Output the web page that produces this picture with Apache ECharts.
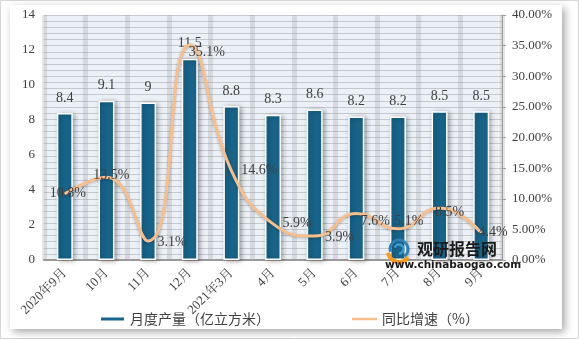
<!DOCTYPE html>
<html>
<head>
<meta charset="utf-8">
<script src="https://cdn.jsdelivr.net/npm/echarts@6/dist/echarts.min.js"></script>
<style>
html,body{margin:0;padding:0;background:#fff;}
#c{width:579px;height:339px;}
</style>
</head>
<body>
<div id="c"></div>
<script>
// ---- data ----
var categories = ['2020年9月','10月','11月','12月','2021年3月','4月','5月','6月','7月','8月','9月'];
var production = [8.4, 9.1, 9, 11.5, 8.8, 8.3, 8.6, 8.2, 8.2, 8.5, 8.5];
var growth = [10.8, 13.5, 3.1, 35.1, 14.6, 5.9, 3.9, 7.6, 5.1, 8.5, 4.4];
var leftTicks = [0, 14, 2];
var rightTicks = [0, 40, 5];
var seriesNames = ['月度产量（亿立方米）', '同比增速（%）'];

// ---- styles ----
var labelOffsets = [[3,-1],[5,-2],[24,1],[17,7],[28,0],[24,-1],[25,1],[19,8],[11,-7],[10,4],[12,-1]];
var serif = '"Liberation Serif", "Noto Serif CJK SC", "Noto Sans CJK SC", serif';
var cjk = '"Noto Sans CJK SC", sans-serif';
var textColor = '#404040';
var lineColor = '#f8be8c';

var growthData = growth.map(function (v, i) {
  return { value: v, label: { offset: labelOffsets[i] } };
});

var chart = echarts.init(document.getElementById('c'), null, {renderer: 'canvas'});
chart.setOption({
  animation: false,
  backgroundColor: '#fff',
  graphic: [
    { type: 'rect', z: -10, shape: {x: 0.5, y: 0.5, width: 578, height: 338},
      style: {fill: '#fff', stroke: '#d6d6d6', lineWidth: 1} },
    { type: 'rect', z: -9, shape: {x: 10, y: 5, width: 552, height: 324},
      style: {fill: '#fff', shadowBlur: 8, shadowColor: 'rgba(0,0,0,0.35)', shadowOffsetX: 3, shadowOffsetY: 3} },
    { type: 'arc', z: 50, shape: {cx: 399, cy: 249, r: 9, startAngle: Math.PI * 0.9, endAngle: Math.PI * 2.3},
      style: {stroke: '#2f7fb7', lineWidth: 3, fill: null} },
    { type: 'arc', z: 50, shape: {cx: 399, cy: 249, r: 4.5, startAngle: Math.PI * 1.1, endAngle: Math.PI * 2.5},
      style: {stroke: '#3c9ad0', lineWidth: 2.5, fill: null} },
    { type: 'arc', z: 50, shape: {cx: 399, cy: 251, r: 11, startAngle: Math.PI * 0.2, endAngle: Math.PI * 0.95},
      style: {stroke: '#f49a1c', lineWidth: 4, fill: null} },
    { type: 'text', z: 50, x: 417, y: 241,
      style: {text: '观研报告网', fill: '#1a1a1a', fontSize: 16, fontWeight: 'bold', fontFamily: cjk} },
    { type: 'text', z: 50, x: 385, y: 260,
      style: {text: 'www.chinabaogao.com', fill: '#1a1a1a', fontSize: 10.5, fontWeight: 'bold', fontFamily: '"DejaVu Sans", sans-serif'} }
  ],
  grid: {
    left: 44, right: 77, top: 15, bottom: 79,
    show: true, backgroundColor: '#ebf1f7', borderWidth: 0
  },
  legend: {
    bottom: 8, left: 94,
    itemWidth: 25, itemHeight: 5, itemGap: 82,
    textStyle: {fontFamily: cjk, fontSize: 14, color: textColor},
    data: [
      {name: seriesNames[0], icon: 'rect'},
      {name: seriesNames[1], icon: 'path://M0,0L25,0L25,0Z M0,1.2L25,1.2L25,3.8L0,3.8Z M0,5L25,5L25,5Z', itemStyle: {color: lineColor}}
    ]
  },
  xAxis: {
    type: 'category',
    data: categories,
    boundaryGap: true,
    axisLine: {show: true, lineStyle: {color: '#9a9a9a', width: 2}},
    axisTick: {show: false},
    axisLabel: {rotate: 45, margin: 11, fontFamily: serif, fontSize: 13, color: textColor, interval: 0},
    splitLine: {show: true, lineStyle: {color: 'rgba(150,150,150,0.25)', width: 5}}
  },
  yAxis: [
    {
      type: 'value', min: leftTicks[0], max: leftTicks[1], interval: leftTicks[2],
      axisLine: {show: false}, axisTick: {show: false}, splitLine: {show: false},
      axisLabel: {fontFamily: serif, fontSize: 13, color: textColor, margin: 9}
    },
    {
      type: 'value', min: rightTicks[0], max: rightTicks[1], interval: rightTicks[2],
      position: 'right',
      axisLine: {show: true, lineStyle: {color: '#9a9a9a', width: 1}},
      axisTick: {show: true, length: 4, lineStyle: {color: '#9a9a9a'}},
      axisLabel: {fontFamily: serif, fontSize: 13, color: textColor, margin: 10,
        formatter: function (v) { return v.toFixed(2) + '%'; }},
      splitLine: {show: true, lineStyle: {color: '#c4c9cf', width: 1}},
      minorTick: {show: false, splitNumber: 5},
      minorSplitLine: {show: true, lineStyle: {color: '#c4c9cf', width: 1}}
    }
  ],
  series: [
    {
      name: seriesNames[0],
      type: 'bar',
      yAxisIndex: 0,
      data: production,
      barWidth: 16,
      itemStyle: {
        color: '#18648a', borderColor: '#ffffff', borderWidth: 1.5,
        shadowColor: 'rgba(0,0,0,0.35)', shadowBlur: 5, shadowOffsetX: 2, shadowOffsetY: 1
      },
      label: {show: true, position: 'top', distance: 8, fontFamily: serif, fontSize: 14, color: textColor}
    },
    {
      name: seriesNames[1],
      type: 'line',
      yAxisIndex: 1,
      data: growthData,
      smooth: 0.5,
      symbol: 'circle',
      symbolSize: 1,
      showSymbol: true,
      z: 5,
      lineStyle: {color: lineColor, width: 3, shadowColor: 'rgba(0,0,0,0.25)', shadowBlur: 3, shadowOffsetY: 1},
      itemStyle: {color: lineColor},
      label: {show: true, position: 'inside', fontFamily: serif, fontSize: 14, color: textColor,
        formatter: function (p) { return p.value + '%'; }}
    }
  ]
});
</script>
</body>
</html>
